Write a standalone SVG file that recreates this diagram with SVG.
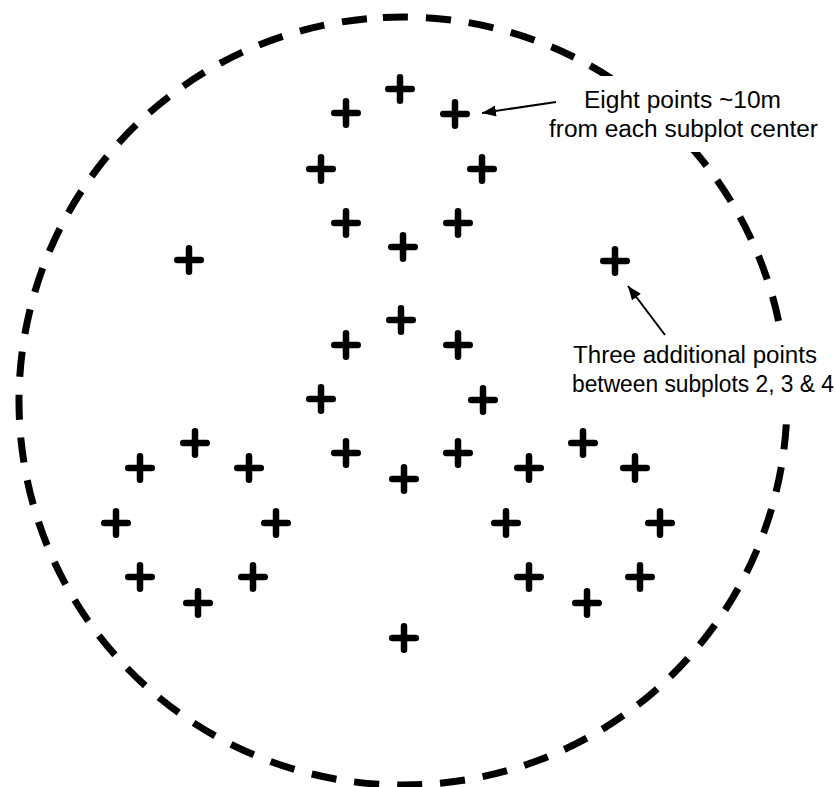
<svg xmlns="http://www.w3.org/2000/svg" xmlns:xlink="http://www.w3.org/1999/xlink" width="836" height="787" viewBox="0 0 836 787">
<style>
.plus{stroke:#000;stroke-width:6.5;stroke-linecap:round;fill:none}
.bound{fill:none;stroke:#000;stroke-width:7;stroke-dasharray:25.1 18}
.conn{stroke:#000;stroke-width:2;fill:none}
.lbl{font-family:"Liberation Sans",Arial,sans-serif;font-size:23px;fill:#000;text-anchor:middle}
</style>
<defs>
<g id="plus"><path class="plus" d="M-11.75 0H11.75M0 -11.75V11.75"/></g>
<marker id="ah" markerUnits="userSpaceOnUse" markerWidth="16" markerHeight="12" refX="14" refY="5.5" orient="auto"><path d="M0 0L14 5.5L0 11Z" fill="#000"/></marker>
</defs>
<rect width="836" height="787" fill="#fff"/>
<circle id="plot-boundary" class="bound" cx="403" cy="401" r="384" transform="rotate(-93 403 401)"/>
<g id="subplot-1">
<g id="s1-p1"><use xlink:href="#plus" x="400" y="89"/></g>
<g id="s1-p2"><use xlink:href="#plus" x="346" y="113"/></g>
<g id="s1-p3"><use xlink:href="#plus" x="455" y="114"/></g>
<g id="s1-p4"><use xlink:href="#plus" x="321" y="169"/></g>
<g id="s1-p5"><use xlink:href="#plus" x="482" y="169"/></g>
<g id="s1-p6"><use xlink:href="#plus" x="346" y="223"/></g>
<g id="s1-p7"><use xlink:href="#plus" x="458" y="223"/></g>
<g id="s1-p8"><use xlink:href="#plus" x="403" y="247"/></g>
</g>
<g id="subplot-2">
<g id="s2-p1"><use xlink:href="#plus" x="401" y="320"/></g>
<g id="s2-p2"><use xlink:href="#plus" x="346" y="345"/></g>
<g id="s2-p3"><use xlink:href="#plus" x="458" y="345"/></g>
<g id="s2-p4"><use xlink:href="#plus" x="321" y="399"/></g>
<g id="s2-p5"><use xlink:href="#plus" x="483" y="400"/></g>
<g id="s2-p6"><use xlink:href="#plus" x="346" y="453"/></g>
<g id="s2-p7"><use xlink:href="#plus" x="458" y="453"/></g>
<g id="s2-p8"><use xlink:href="#plus" x="404" y="479"/></g>
</g>
<g id="subplot-3">
<g id="s3-p1"><use xlink:href="#plus" x="195" y="443"/></g>
<g id="s3-p2"><use xlink:href="#plus" x="140" y="468"/></g>
<g id="s3-p3"><use xlink:href="#plus" x="249" y="468"/></g>
<g id="s3-p4"><use xlink:href="#plus" x="116" y="523"/></g>
<g id="s3-p5"><use xlink:href="#plus" x="276" y="523"/></g>
<g id="s3-p6"><use xlink:href="#plus" x="140" y="577"/></g>
<g id="s3-p7"><use xlink:href="#plus" x="253" y="577"/></g>
<g id="s3-p8"><use xlink:href="#plus" x="198" y="603"/></g>
</g>
<g id="subplot-4">
<g id="s4-p1"><use xlink:href="#plus" x="583" y="443"/></g>
<g id="s4-p2"><use xlink:href="#plus" x="529" y="468"/></g>
<g id="s4-p3"><use xlink:href="#plus" x="635" y="468"/></g>
<g id="s4-p4"><use xlink:href="#plus" x="506" y="523"/></g>
<g id="s4-p5"><use xlink:href="#plus" x="660" y="523"/></g>
<g id="s4-p6"><use xlink:href="#plus" x="529" y="577"/></g>
<g id="s4-p7"><use xlink:href="#plus" x="640" y="577"/></g>
<g id="s4-p8"><use xlink:href="#plus" x="587" y="603"/></g>
</g>
<g id="extra-points">
<g id="x-p1"><use xlink:href="#plus" x="189" y="260"/></g>
<g id="x-p2"><use xlink:href="#plus" x="615" y="261"/></g>
<g id="x-p3"><use xlink:href="#plus" x="404" y="638"/></g>
</g>
<g id="label-eight">
<rect x="548" y="76" width="280" height="76" fill="#fff"/>
<text class="lbl" x="682.5" y="108" textLength="197" lengthAdjust="spacingAndGlyphs">Eight points ~10m</text>
<text class="lbl" x="683.5" y="137" textLength="269" lengthAdjust="spacingAndGlyphs">from each subplot center</text>
</g>
<g id="label-three">
<rect x="565" y="337" width="271" height="70" fill="#fff"/>
<text class="lbl" x="695" y="363" textLength="244" lengthAdjust="spacingAndGlyphs">Three additional points</text>
<text class="lbl" x="703" y="392" textLength="262" lengthAdjust="spacingAndGlyphs">between subplots 2, 3 &amp; 4</text>
</g>
<g id="connectors">
<line class="conn" x1="556" y1="102" x2="482" y2="113" marker-end="url(#ah)"/>
<line class="conn" x1="665" y1="335" x2="628" y2="286" marker-end="url(#ah)"/>
</g>
</svg>
